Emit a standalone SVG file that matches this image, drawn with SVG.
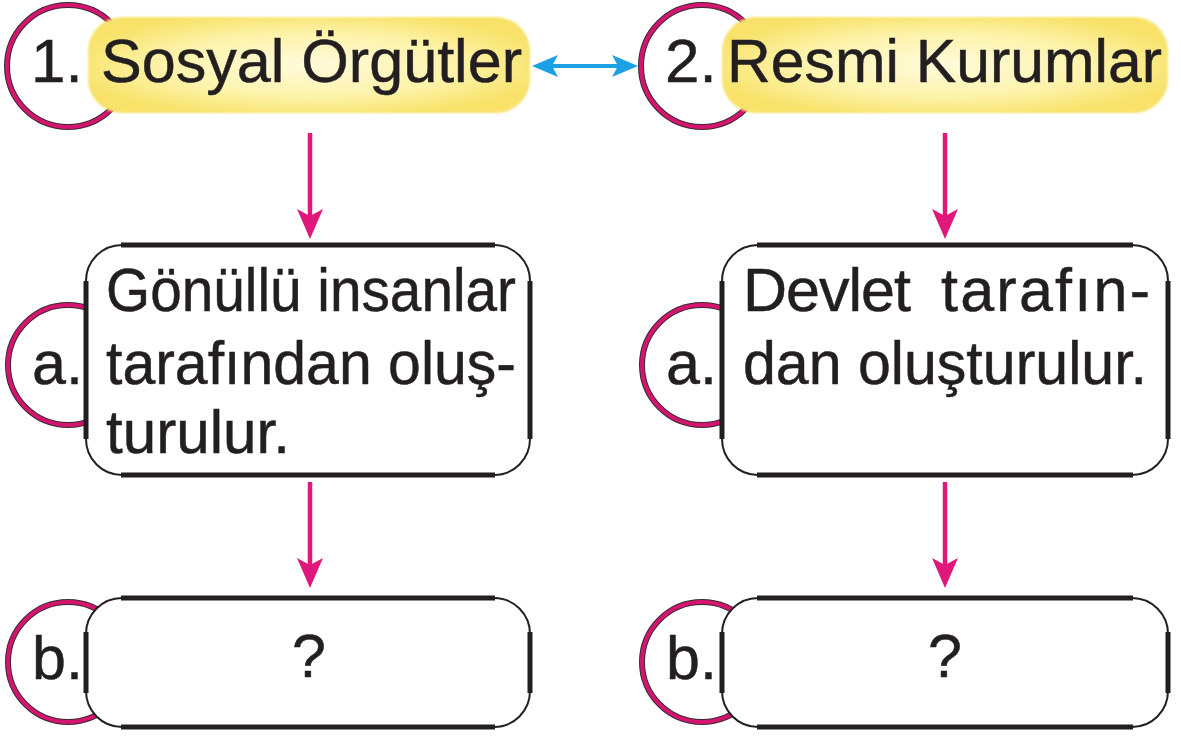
<svg xmlns="http://www.w3.org/2000/svg" width="1181" height="736" viewBox="0 0 1181 736">
  <defs>
    <style>
      .t { font-family: "Liberation Sans", Arial, sans-serif; fill: #231f20; stroke: #231f20; stroke-width: 0.5; }
      .big { font-size: 62px; }
      .mid { font-size: 61px; }
      .ringOut { fill: #ffffff; stroke: #3b2a31; stroke-width: 6; }
      .ringIn { fill: none; stroke: #d4156f; stroke-width: 4; }
      .boxThin { fill: #ffffff; stroke: #231f20; stroke-width: 2; }
      .boxThick { stroke: #231f20; stroke-width: 5; fill: none; }
      .pill { fill: url(#yel); filter: url(#soft); }
      .pink { stroke: #e0187b; stroke-width: 4.5; fill: none; marker-end: url(#pinkHead); }
      .blue { stroke: #1ca0e4; stroke-width: 4; fill: none; marker-start: url(#blueHead); marker-end: url(#blueHead); }
    </style>
    <radialGradient id="yel" cx="0.5" cy="0.5" r="0.55">
      <stop offset="0" stop-color="#fffbdc"/>
      <stop offset="0.6" stop-color="#fdf3aa"/>
      <stop offset="1" stop-color="#f8e26a"/>
    </radialGradient>
    <filter id="soft" x="-5%" y="-10%" width="110%" height="120%">
      <feGaussianBlur stdDeviation="1.2"/>
    </filter>
    <marker id="pinkHead" markerUnits="userSpaceOnUse" viewBox="0 0 30 26" refX="7" refY="13" markerWidth="30" markerHeight="26" orient="auto">
      <path d="M0,0 L30,13 L0,26 L7,13 Z" fill="#e0187b"/>
    </marker>
    <marker id="blueHead" markerUnits="userSpaceOnUse" viewBox="0 0 26 22" refX="6" refY="11" markerWidth="26" markerHeight="22" orient="auto-start-reverse">
      <path d="M0,0 L26,11 L0,22 L6,11 Z" fill="#1ca0e4"/>
    </marker>
  </defs>

  <rect width="1181" height="736" fill="#ffffff"/>

  <g id="connectors">
    <line class="blue" x1="552" y1="66" x2="618" y2="66"/>
    <line class="pink" x1="310" y1="133" x2="310" y2="216"/>
    <line class="pink" x1="945" y1="133" x2="945" y2="216"/>
    <line class="pink" x1="310" y1="482" x2="310" y2="565"/>
    <line class="pink" x1="945" y1="482" x2="945" y2="565"/>
  </g>

  <g id="node-1">
    <circle class="ringOut" cx="68" cy="66" r="61"/>
    <circle class="ringIn" cx="68" cy="66" r="61"/>
    <rect class="pill" x="88" y="17" width="442" height="96" rx="34"/>
    <text class="t big" x="31" y="82">1.</text>
    <text class="t big" x="101" y="82" textLength="421" lengthAdjust="spacingAndGlyphs">Sosyal Örgütler</text>
  </g>

  <g id="node-2">
    <circle class="ringOut" cx="702" cy="66" r="61"/>
    <circle class="ringIn" cx="702" cy="66" r="61"/>
    <rect class="pill" x="722" y="17" width="446" height="96" rx="34"/>
    <text class="t big" x="665" y="82">2.</text>
    <text class="t big" x="727" y="82" textLength="435" lengthAdjust="spacingAndGlyphs">Resmi Kurumlar</text>
  </g>

  <g id="node-1a">
    <circle class="ringOut" cx="68" cy="365" r="60"/>
    <circle class="ringIn" cx="68" cy="365" r="60"/>
    <rect class="boxThin" x="86" y="245" width="444" height="230" rx="36"/>
    <path class="boxThick" d="M121,245 H495 M121,475 H495 M86,281 V439 M530,281 V439"/>
    <text class="t mid" x="32" y="384">a.</text>
    <text class="t mid" x="106" y="311" textLength="410" lengthAdjust="spacingAndGlyphs">Gönüllü insanlar</text>
    <text class="t mid" x="106" y="384" textLength="410" lengthAdjust="spacingAndGlyphs">tarafından oluş-</text>
    <text class="t mid" x="106" y="453" textLength="184" lengthAdjust="spacingAndGlyphs">turulur.</text>
  </g>

  <g id="node-2a">
    <circle class="ringOut" cx="702" cy="365" r="60"/>
    <circle class="ringIn" cx="702" cy="365" r="60"/>
    <rect class="boxThin" x="722" y="245" width="446" height="230" rx="36"/>
    <path class="boxThick" d="M757,245 H1133 M757,475 H1133 M722,281 V439 M1168,281 V439"/>
    <text class="t mid" x="666" y="384">a.</text>
    <text class="t mid" x="743" y="311" textLength="168" lengthAdjust="spacing">Devlet</text>
    <text class="t mid" x="941" y="311" textLength="209" lengthAdjust="spacing">tarafın-</text>
    <text class="t mid" x="743" y="384" textLength="404" lengthAdjust="spacingAndGlyphs">dan oluşturulur.</text>
  </g>

  <g id="node-1b">
    <circle class="ringOut" cx="68" cy="662" r="60"/>
    <circle class="ringIn" cx="68" cy="662" r="60"/>
    <rect class="boxThin" x="86" y="598" width="444" height="129" rx="36"/>
    <path class="boxThick" d="M121,598 H495 M121,727 H495 M86,632 V693 M530,632 V693"/>
    <text class="t mid" x="32" y="679">b.</text>
    <text class="t mid" x="309" y="677" text-anchor="middle">?</text>
  </g>

  <g id="node-2b">
    <circle class="ringOut" cx="702" cy="662" r="60"/>
    <circle class="ringIn" cx="702" cy="662" r="60"/>
    <rect class="boxThin" x="722" y="598" width="446" height="129" rx="36"/>
    <path class="boxThick" d="M757,598 H1133 M757,727 H1133 M722,632 V693 M1168,632 V693"/>
    <text class="t mid" x="666" y="679">b.</text>
    <text class="t mid" x="945" y="677" text-anchor="middle">?</text>
  </g>
</svg>
